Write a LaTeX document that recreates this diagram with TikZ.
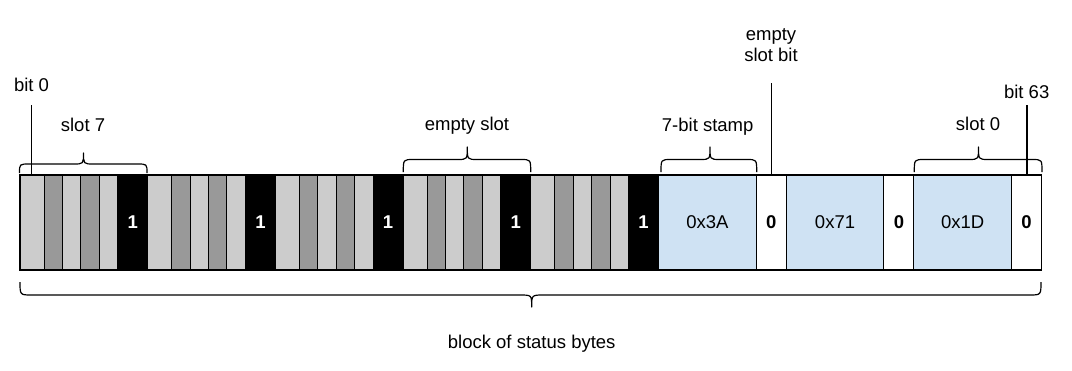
\documentclass[tikz,border=0pt]{standalone}
\usepackage{fontspec}
\setmainfont{Liberation Sans}
\definecolor{lgray}{HTML}{CCCCCC}
\definecolor{dgray}{HTML}{999999}
\definecolor{lblue}{HTML}{CFE2F3}
\newcommand\mybrace[7]{%
  \draw[bracepath] (#1,#4) .. controls (#1,#5) .. (#1+#7,#5) -- (#3-#7,#5)
    .. controls (#3,#5) .. (#3,#6) .. controls (#3,#5) .. (#3+#7,#5)
    -- (#2-#7,#5) .. controls (#2,#5) .. (#2,#4);}
\begin{document}
\begin{tikzpicture}[x=1pt,y=-1pt,
  cellbox/.style={draw=black,line width=1pt,inner sep=0pt,outer sep=0pt,
    minimum height=95pt,anchor=west},
  lbl/.style={font=\fontsize{18.5}{21}\selectfont,inner sep=0pt,anchor=base},
  bitnum/.style={font=\fontsize{18.5}{21}\selectfont\bfseries},
  valtext/.style={font=\fontsize{18.5}{21}\selectfont},
  bracepath/.style={line width=1.2pt,line join=round},
  conn/.style={line width=1.2pt}]
\useasboundingbox[fill=white] (0,0) rectangle (1072,370);
% gray slots
\foreach \k in {0,...,4} {
  \pgfmathsetmacro\xo{20+127.7*\k}
  \node[cellbox,fill=lgray,minimum width=24pt] (s\k-1) at (\xo,222.5) {};
  \node[cellbox,fill=dgray,minimum width=18.425pt] (s\k-2) at (\xo+24,222.5) {};
  \node[cellbox,fill=lgray,minimum width=18.425pt] (s\k-3) at (\xo+42.425,222.5) {};
  \node[cellbox,fill=dgray,minimum width=18.425pt] (s\k-4) at (\xo+60.85,222.5) {};
  \node[cellbox,fill=lgray,minimum width=18.425pt] (s\k-5) at (\xo+79.275,222.5) {};
  \node[cellbox,fill=black,minimum width=30pt,text=white,bitnum] (s\k-6) at (\xo+97.7,222.5) {1};
}
% blue slots
\foreach \k/\v in {5/0x3A,6/0x71,7/0x1D} {
  \pgfmathsetmacro\xo{20+127.7*\k}
  \node[cellbox,fill=lblue,minimum width=97.7pt,valtext] (s\k-1) at (\xo,222.5) {\v};
  \node[cellbox,fill=white,minimum width=30pt,bitnum] (s\k-2) at (\xo+97.7,222.5) {0};
}
\draw[line width=1.5pt] (s0-1.north west) rectangle (s7-2.south east);
% braces
\mybrace{19.5}{147}{83.5}{173}{164}{153}{10}
\mybrace{403.3}{530.7}{467.3}{172}{159.5}{147}{10}
\mybrace{661}{756.7}{710}{172}{159.5}{147}{10}
\mybrace{914.3}{1042}{978.5}{172}{159.5}{147}{10}
\mybrace{20}{1041}{531.7}{282}{295}{307}{12}
% labels
\node[lbl] (lbit0) at (31.5,91.7) {bit 0};
\node[lbl] (lslot7) at (83,131) {slot 7};
\node[lbl] (lempty) at (467,130) {empty slot};
\node[lbl] (lstamp) at (707.7,131.7) {7-bit stamp};
\node[lbl] (lslot0) at (978,130) {slot 0};
\node[lbl] (lbit63) at (1026.7,98.3) {bit 63};
\node[lbl,align=center] (lesb) at (771,61.7) {empty\\slot bit};
\node[lbl] (lblock) at (531.7,348.3) {block of status bytes};
% connectors
\coordinate (c0) at (31.7,105);
\coordinate (c1) at (771.7,83);
\coordinate (c2) at (1027,105);
\draw[conn] (c0) -- (c0 |- s0-1.north);
\draw[conn] (c1) -- (c1 |- s5-2.north);
\draw[conn] (c2) -- (c2 |- s7-2.north);
\end{tikzpicture}
\end{document}
